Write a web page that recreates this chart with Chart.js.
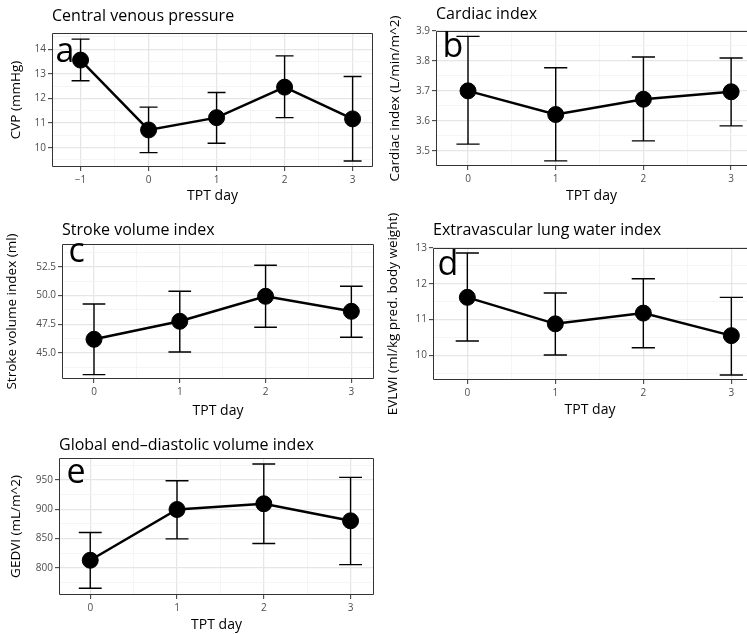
<!DOCTYPE html>
<html>
<head>
<meta charset="utf-8">
<script src="https://cdn.jsdelivr.net/npm/chart.js@4.4.1/dist/chart.umd.min.js"></script>
<style>
  html, body { margin: 0; padding: 0; background: #fff; overflow: hidden; width: 747px; height: 634px; }
  #wrap { position: relative; width: 747px; height: 634px; overflow: hidden; }
  canvas { position: absolute; }
</style>
</head>
<body>
<div id="wrap">
<canvas id="cvp"></canvas>
<canvas id="ci"></canvas>
<canvas id="svi"></canvas>
<canvas id="evlwi"></canvas>
<canvas id="gedvi"></canvas>
</div>
<script>
  // Data (mean with lower / upper error bar)
  const cvpDays = [-1, 0, 1, 2, 3];
  const cvpMean = [13.56, 10.72, 11.22, 12.46, 11.17];
  const cvpLow = [12.72, 9.80, 10.18, 11.22, 9.46];
  const cvpHigh = [14.41, 11.65, 12.24, 13.73, 12.89];
  const cvpTicks = [10, 11, 12, 13, 14];

  const days = [0, 1, 2, 3];

  const ciMean = [3.700, 3.621, 3.672, 3.697];
  const ciLow = [3.522, 3.466, 3.533, 3.583];
  const ciHigh = [3.882, 3.777, 3.813, 3.810];
  const ciTicks = [3.5, 3.6, 3.7, 3.8, 3.9];

  const sviMean = [46.19, 47.76, 49.94, 48.63];
  const sviLow = [43.11, 45.09, 47.24, 46.37];
  const sviHigh = [49.27, 50.38, 52.65, 50.81];
  const sviTicks = [45, 47.5, 50, 52.5];

  const evlwiMean = [11.62, 10.88, 11.18, 10.55];
  const evlwiLow = [10.40, 10.01, 10.21, 9.45];
  const evlwiHigh = [12.86, 11.74, 12.14, 11.62];
  const evlwiTicks = [10, 11, 12, 13];

  const gedviMean = [813.1, 899.7, 909.5, 880.4];
  const gedviLow = [765.4, 849.6, 841.6, 805.7];
  const gedviHigh = [860.4, 948.9, 977.4, 954.6];
  const gedviTicks = [800, 850, 900, 950];

  const FONT = "'Open Sans', 'Noto Sans', sans-serif";
  const CAP_HALF = 0.132; // error bar cap half width, in x units

  // box = canvas [left, top, width, height], area = plot [left, top, right, bottom] (page px)
  // the right column is cut off by the page edge, so those panels have no right border
  const panels = [
    { id: 'cvp', title: 'Central venous pressure', yTitle: 'CVP (mmHg)', letter: 'a',
      x: cvpDays, mean: cvpMean, low: cvpLow, high: cvpHigh, yTicks: cvpTicks, xTicks: cvpDays, digits: 0,
      box: [0, 0, 380, 204], area: [52, 33, 373, 167], xRange: [-1.42, 3.30], yRange: [9.215, 14.66],
      titleY: 16, letterAt: [57, 62], yTitlePad: 8, cut: false },
    { id: 'ci', title: 'Cardiac index', yTitle: 'Cardiac index (L/min/m^2)', letter: 'b',
      x: days, mean: ciMean, low: ciLow, high: ciHigh, yTicks: ciTicks, xTicks: days, digits: 1,
      box: [374, 0, 373, 204], area: [436, 31, 747, 166], xRange: [-0.365, 3.181], yRange: [3.449, 3.9],
      titleY: 14, letterAt: [444, 57], yTitlePad: 13, cut: true },
    { id: 'svi', title: 'Stroke volume index', yTitle: 'Stroke volume index (ml)', letter: 'c',
      x: days, mean: sviMean, low: sviLow, high: sviHigh, yTicks: sviTicks, xTicks: days, digits: 1,
      box: [0, 205, 380, 214], area: [62, 244, 374, 379], xRange: [-0.373, 3.264], yRange: [42.73, 54.5],
      titleY: 230, letterAt: [70, 262], yTitlePad: 4, cut: false },
    { id: 'evlwi', title: 'Extravascular lung water index', yTitle: 'EVLWI (ml/kg pred. body weight)', letter: 'd',
      x: days, mean: evlwiMean, low: evlwiLow, high: evlwiHigh, yTicks: evlwiTicks, xTicks: days, digits: 0,
      box: [374, 205, 373, 213], area: [433, 248, 747, 380], xRange: [-0.39, 3.178], yRange: [9.31, 13.0],
      titleY: 230, letterAt: [439, 275], yTitlePad: 11, cut: true },
    { id: 'gedvi', title: 'Global end\u2013diastolic volume index', yTitle: 'GEDVI (mL/m^2)', letter: 'e',
      x: days, mean: gedviMean, low: gedviLow, high: gedviHigh, yTicks: gedviTicks, xTicks: days, digits: 0,
      box: [0, 425, 380, 208], area: [59, 458, 374, 595], xRange: [-0.36, 3.27], yRange: [753.8, 987.6],
      titleY: 445, letterAt: [68, 483], yTitlePad: 8, cut: false }
  ];

  // major ticks plus the minor (half step) ones ggplot draws between them
  function withMinor(major, lo, hi) {
    const step = major[1] - major[0];
    const eps = step * 1e-6;
    const out = [];
    for (let v = major[0] - step / 2; v > lo; v -= step) out.push({ value: v, sub: true });
    major.forEach(v => {
      out.push({ value: v });
      out.push({ value: v + step / 2, sub: true });
    });
    return out.filter(t => t.value >= lo - eps && t.value <= hi + eps).sort((a, b) => a.value - b.value);
  }

  const gridOpts = {
    color: c => (c.tick && c.tick.sub) ? '#f3f3f3' : '#e6e6e6',
    lineWidth: c => (c.tick && c.tick.sub) ? 0.8 : 1.3,
    tickColor: c => (c.tick && c.tick.sub) ? 'rgba(0,0,0,0)' : '#333333',
    tickWidth: 1,
    tickLength: 4
  };

  function makeChart(p) {
    const [bl, bt, bw, bh] = p.box;
    const [al, at, ar, ab] = p.area;
    const cv = document.getElementById(p.id);
    cv.style.left = bl + 'px';
    cv.style.top = bt + 'px';
    cv.width = bw; cv.height = bh;
    cv.style.width = bw + 'px'; cv.style.height = bh + 'px';

    const panelPlugin = {
      id: 'panel_' + p.id,
      beforeDatasetsDraw(chart) {
        const ctx = chart.ctx, xs = chart.scales.x, ys = chart.scales.y;
        ctx.save();
        ctx.strokeStyle = '#000';
        ctx.lineWidth = 1.4;
        p.x.forEach((d, i) => {
          const px = xs.getPixelForValue(d);
          const hw = xs.getPixelForValue(d + CAP_HALF) - px;
          const y1 = ys.getPixelForValue(p.low[i]);
          const y2 = ys.getPixelForValue(p.high[i]);
          ctx.beginPath();
          ctx.moveTo(px, y1); ctx.lineTo(px, y2);
          ctx.moveTo(px - hw, y1); ctx.lineTo(px + hw, y1);
          ctx.moveTo(px - hw, y2); ctx.lineTo(px + hw, y2);
          ctx.stroke();
        });
        ctx.restore();
      },
      afterDraw(chart) {
        const ctx = chart.ctx, a = chart.chartArea;
        const l = Math.round(a.left) + 0.5, t = Math.round(a.top) + 0.5;
        const r = Math.round(a.right) - 0.5, b = Math.round(a.bottom) - 0.5;
        ctx.save();
        ctx.strokeStyle = '#333333';
        ctx.lineWidth = 1;
        ctx.beginPath();
        if (p.cut) {
          ctx.moveTo(r + 1, t); ctx.lineTo(l, t); ctx.lineTo(l, b); ctx.lineTo(r + 1, b);
        } else {
          ctx.rect(l, t, r - l, b - t);
        }
        ctx.stroke();
        ctx.fillStyle = '#000';
        ctx.textBaseline = 'middle';
        ctx.textAlign = 'left';
        ctx.font = '16px ' + FONT;
        ctx.fillText(p.title, a.left, p.titleY - bt);
        ctx.textBaseline = 'alphabetic';
        ctx.font = '34px ' + FONT;
        ctx.fillText(p.letter, p.letterAt[0] - bl - 1.5, p.letterAt[1] - bt);
        ctx.restore();
      }
    };

    return new Chart(cv, {
      type: 'scatter',
      data: {
        datasets: [{
          data: p.x.map((d, i) => ({ x: d, y: p.mean[i] })),
          showLine: true,
          borderColor: '#000',
          borderWidth: 2.5,
          pointRadius: 8,
          pointHoverRadius: 8,
          pointBackgroundColor: '#000',
          pointBorderColor: '#000',
          pointBorderWidth: 1
        }]
      },
      options: {
        responsive: false,
        animation: false,
        events: [],
        layout: { autoPadding: false, padding: { top: at - bt, right: bl + bw - ar, left: 0, bottom: 0 } },
        plugins: { legend: { display: false }, tooltip: { enabled: false } },
        scales: {
          x: {
            type: 'linear',
            min: p.xRange[0], max: p.xRange[1],
            afterBuildTicks(s) { s.ticks = withMinor(p.xTicks, p.xRange[0], p.xRange[1]); },
            afterFit(s) { s.height = bt + bh - ab; },
            grid: gridOpts,
            border: { display: false },
            ticks: {
              autoSkip: false, maxRotation: 0, padding: 3, color: '#4d4d4d',
              font: { family: FONT, size: 10 },
              callback(v, i, ticks) {
                if (ticks[i].sub) return '';
                return v < 0 ? '\u2212' + Math.abs(v) : String(v);
              }
            },
            title: { display: true, text: 'TPT day', color: '#000', padding: 0,
              font: { family: FONT, size: 14 } }
          },
          y: {
            min: p.yRange[0], max: p.yRange[1],
            afterBuildTicks(s) { s.ticks = withMinor(p.yTicks, p.yRange[0], p.yRange[1]); },
            afterFit(s) { s.width = al - bl; },
            grid: gridOpts,
            border: { display: false },
            ticks: {
              autoSkip: false, padding: 2, color: '#4d4d4d',
              font: { family: FONT, size: 10 },
              callback(v, i, ticks) { return ticks[i].sub ? '' : v.toFixed(p.digits); }
            },
            title: { display: true, text: p.yTitle, color: '#000',
              padding: { top: p.yTitlePad, bottom: 0 },
              font: { family: FONT, size: 13.5 } }
          }
        }
      },
      plugins: [panelPlugin]
    });
  }

  panels.forEach(makeChart);
</script>
</body>
</html>
